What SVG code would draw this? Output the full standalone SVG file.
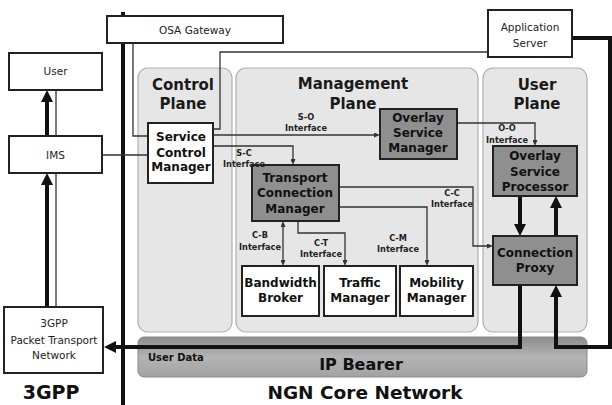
<svg xmlns="http://www.w3.org/2000/svg" width="612" height="405" viewBox="0 0 612 405">
<style>
.panel{fill:#e6e6e6;stroke:#b0b0b0;stroke-width:1.2}
.wbox{fill:#fff;stroke:#222;stroke-width:2}
.gbox{fill:#8f8f8f;stroke:#222;stroke-width:2}
.nt{font-family:"DejaVu Sans",Verdana,sans-serif;font-weight:bold;font-size:12px;fill:#111;text-anchor:middle}
.pt{font-family:"DejaVu Sans",Verdana,sans-serif;font-weight:bold;font-size:15px;fill:#1a1a1a;text-anchor:middle}
.it{font-family:"DejaVu Sans",Verdana,sans-serif;font-weight:bold;font-size:8.2px;fill:#222;text-anchor:middle}
.lt{font-family:"DejaVu Sans",Tahoma,sans-serif;font-size:10.5px;fill:#222;text-anchor:middle}
.big{font-family:"DejaVu Sans",Verdana,sans-serif;font-weight:bold;fill:#111;text-anchor:middle}
.thin{fill:none;stroke:#333;stroke-width:1.3}
.thick{fill:none;stroke:#111;stroke-width:4}
</style>
<defs>
<marker id="ah" viewBox="0 0 6 5" refX="0" refY="2.5" markerWidth="6" markerHeight="5" markerUnits="userSpaceOnUse" orient="auto-start-reverse"><path d="M0,0 L6,2.5 L0,5 z" fill="#333"/></marker>
<marker id="bh" viewBox="0 0 12 12" refX="0" refY="6" markerWidth="12" markerHeight="12" markerUnits="userSpaceOnUse" orient="auto"><path d="M0,0 L12,6 L0,12 z" fill="#111"/></marker>
<linearGradient id="ipg" x1="0" y1="0" x2="0" y2="1">
<stop offset="0" stop-color="#8c8c8c"/><stop offset="0.5" stop-color="#b4b4b4"/><stop offset="1" stop-color="#a2a2a2"/>
</linearGradient>
</defs>

<g id="control-plane"><rect class="panel" x="138" y="68" width="94" height="264" rx="10"/><text class="pt" x="183" y="89.5">Control</text><text class="pt" x="183" y="108.5">Plane</text></g>
<g id="management-plane"><rect class="panel" x="236" y="68" width="242" height="264" rx="10"/><text class="pt" x="353" y="89">Management</text><text class="pt" x="353" y="108.5">Plane</text></g>
<g id="user-plane"><rect class="panel" x="483" y="68" width="104" height="264" rx="10"/><text class="pt" x="537" y="89.5">User</text><text class="pt" x="537" y="108.5">Plane</text></g>
<g id="ip-bearer"><rect x="138" y="337" width="449" height="40" rx="6" fill="url(#ipg)" stroke="#8a8a8a"/><text class="big" x="148" y="361" font-size="10" style="text-anchor:start">User Data</text><text class="big" x="361" y="370" font-size="16">IP Bearer</text></g>

<g id="connectors">
<path class="thick" d="M123,12 V405"/>
<path class="thin" d="M133,43 V136 H148"/>
<path class="thin" d="M488,52 H220 V129 H213"/>
<path class="thin" d="M102,155 H148"/>
<path class="thin" d="M213,135 H374" marker-end="url(#ah)"/>
<path class="thin" d="M213,146 H293 V159" marker-end="url(#ah)"/>
<path class="thin" d="M283,227 V260" marker-start="url(#ah)" marker-end="url(#ah)"/>
<path class="thin" d="M298,221 V233 H345 V260" marker-end="url(#ah)"/>
<path class="thin" d="M339,207 H427 V260" marker-end="url(#ah)"/>
<path class="thin" d="M339,187 H473 V246 H487" marker-end="url(#ah)"/>
<path class="thin" d="M457,123 H535 V140" marker-end="url(#ah)"/>
<path class="thick" d="M47,136 V102" marker-end="url(#bh)"/>
<path class="thin" d="M56,136 V90" stroke-width="1.8"/>
<path class="thick" d="M47,307 V185" marker-end="url(#bh)"/>
<path class="thin" d="M56,307 V173" stroke-width="1.8"/>
<path class="thick" d="M520,196 V224" marker-end="url(#bh)"/>
<path class="thick" d="M556,236 V208" marker-end="url(#bh)"/>
<path class="thick" d="M520,285 V347 H116" marker-end="url(#bh)"/>
<path class="thick" d="M572,38 H610 V347 H556 V297" marker-end="url(#bh)"/>
</g>

<g id="osa-gateway"><rect class="wbox" x="107" y="16" width="176" height="27"/><text class="lt" x="195" y="34">OSA Gateway</text></g>
<g id="application-server"><rect class="wbox" x="488" y="10" width="84" height="47"/><text class="lt" x="530" y="31">Application</text><text class="lt" x="530" y="47">Server</text></g>
<g id="user"><rect class="wbox" x="9" y="53" width="93" height="37"/><text class="lt" x="55.5" y="75">User</text></g>
<g id="ims"><rect class="wbox" x="9" y="136" width="93" height="37"/><text class="lt" x="55.5" y="158.5">IMS</text></g>
<g id="packet-transport"><rect class="wbox" x="4" y="307" width="99" height="66"/><text class="lt" x="54" y="326.5">3GPP</text><text class="lt" x="54" y="343.5">Packet Transport</text><text class="lt" x="54" y="358.5">Network</text></g>

<g id="service-control-manager"><rect class="wbox" x="148" y="123" width="65" height="60"/><text class="nt" x="181" y="141">Service</text><text class="nt" x="181" y="157">Control</text><text class="nt" x="181" y="171">Manager</text></g>
<g id="overlay-service-manager"><rect class="gbox" x="380" y="109" width="77" height="50"/><text class="nt" x="418" y="122">Overlay</text><text class="nt" x="418" y="137">Service</text><text class="nt" x="418" y="152">Manager</text></g>
<g id="transport-connection-manager"><rect class="gbox" x="252" y="165" width="87" height="56"/><text class="nt" x="295" y="182">Transport</text><text class="nt" x="295" y="197">Connection</text><text class="nt" x="295" y="213">Manager</text></g>
<g id="overlay-service-processor"><rect class="gbox" x="493" y="146" width="84" height="50"/><text class="nt" x="535" y="160">Overlay</text><text class="nt" x="535" y="176">Service</text><text class="nt" x="535" y="191">Processor</text></g>
<g id="connection-proxy"><rect class="gbox" x="493" y="236" width="84" height="49"/><text class="nt" x="535" y="257">Connection</text><text class="nt" x="535" y="272">Proxy</text></g>
<g id="bandwidth-broker"><rect class="wbox" x="242" y="266" width="77" height="50"/><text class="nt" x="280.5" y="287">Bandwidth</text><text class="nt" x="280.5" y="302">Broker</text></g>
<g id="traffic-manager"><rect class="wbox" x="324" y="266" width="72" height="50"/><text class="nt" x="360" y="287">Traffic</text><text class="nt" x="360" y="302">Manager</text></g>
<g id="mobility-manager"><rect class="wbox" x="400" y="266" width="73" height="50"/><text class="nt" x="436.5" y="287">Mobility</text><text class="nt" x="436.5" y="302">Manager</text></g>

<g id="labels">
<text class="it" x="306" y="120">S-O</text><text class="it" x="306" y="131">Interface</text>
<text class="it" x="244" y="156">S-C</text><text class="it" x="244" y="167">Interface</text>
<text class="it" x="260" y="238">C-B</text><text class="it" x="260" y="250">Interface</text>
<text class="it" x="321" y="246">C-T</text><text class="it" x="321" y="257">Interface</text>
<text class="it" x="398" y="241">C-M</text><text class="it" x="398" y="252">Interface</text>
<text class="it" x="452" y="196">C-C</text><text class="it" x="452" y="207">Interface</text>
<text class="it" x="507" y="131">O-O</text><text class="it" x="507" y="143">Interface</text>
<text class="big" x="51" y="399" font-size="19">3GPP</text>
<text class="big" x="365" y="399" font-size="18.5">NGN Core Network</text>
</g>
</svg>
